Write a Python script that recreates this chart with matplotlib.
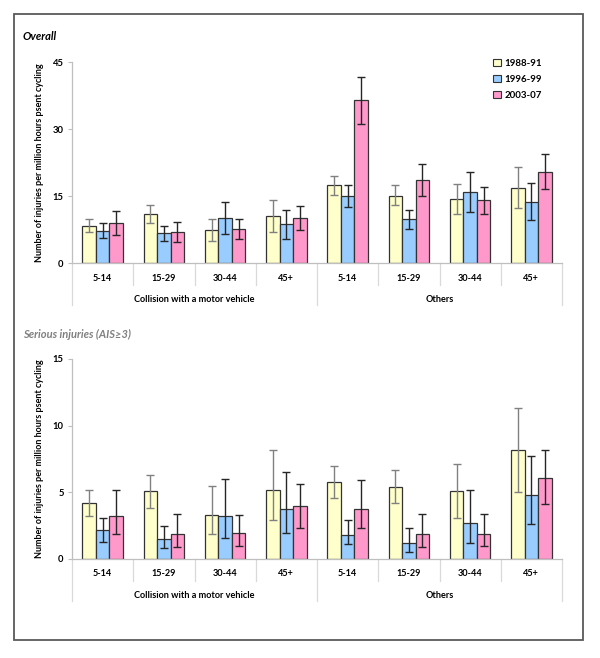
import numpy as np
import matplotlib
matplotlib.use("Agg")
import matplotlib.pyplot as plt
from matplotlib.patches import Rectangle, Patch

plt.rcParams["font.family"] = ["Lato", "DejaVu Sans"]

## DATA ##
AGE_GROUPS = ["5-14", "15-29", "30-44", "45+"]
MECHANISMS = ["Collision with a motor vehicle", "Others"]
PERIODS = ["1988-91", "1996-99", "2003-07"]

# overall: 8 categories (4 collision + 4 others) per period
overall_values = [
	[8.4, 11.1, 7.5, 10.5, 17.4, 15.1, 14.3, 16.9],
	[7.2, 6.7, 10.1, 8.7, 15.0, 9.8, 16.0, 13.8],
	[9.0, 6.9, 7.6, 10.2, 36.4, 18.6, 14.1, 20.4],
]
overall_low = [
	[6.9, 9.1, 4.9, 6.9, 15.3, 13.1, 11.0, 12.4],
	[5.6, 4.9, 6.5, 5.4, 12.5, 7.6, 11.4, 9.7],
	[6.3, 4.7, 5.4, 7.5, 31.2, 15.0, 11.0, 16.7],
]
overall_high = [
	[9.9, 13.0, 9.8, 14.1, 19.5, 17.4, 17.7, 21.5],
	[9.0, 8.4, 13.7, 12.0, 17.5, 12.0, 20.4, 17.9],
	[11.6, 9.2, 9.8, 12.9, 41.6, 22.2, 17.0, 24.4],
]

serious_values = [
	[4.2, 5.1, 3.3, 5.15, 5.75, 5.4, 5.1, 8.2],
	[2.2, 1.5, 3.2, 3.75, 1.8, 1.2, 2.7, 4.8],
	[3.25, 1.9, 1.95, 3.95, 3.75, 1.9, 1.9, 6.1],
]
serious_low = [
	[3.2, 3.85, 1.9, 2.9, 4.6, 4.2, 3.05, 5.0],
	[1.25, 0.8, 1.6, 1.95, 1.1, 0.55, 1.2, 2.6],
	[1.9, 0.9, 0.95, 2.3, 2.35, 0.9, 0.95, 4.1],
]
serious_high = [
	[5.2, 6.3, 5.45, 8.2, 6.95, 6.7, 7.1, 11.3],
	[3.1, 2.5, 6.0, 6.5, 2.9, 2.3, 5.2, 7.7],
	[5.2, 3.4, 3.3, 5.6, 5.95, 3.4, 3.35, 8.2],
]

## STYLE ##
BAR_COLORS = ["#FFFFCC", "#99CCFF", "#FF99CC"]
ERR_COLORS = ["#808080", "#262626", "#262626"]
EDGE = "#333333"
AXIS_GRAY = "#BFBFBF"
BAR_WIDTH = 0.22
FIG_W, FIG_H, DPI = 6.0, 6.58, 100

def px_x(px):
	return px / (FIG_W * DPI)

def px_y(px):
	return 1 - px / (FIG_H * DPI)

def draw_panel(ax, values, lows, highs, ymax, step, show_legend=False):
	n = len(AGE_GROUPS) * len(MECHANISMS)
	x = np.arange(n)
	for i, period in enumerate(PERIODS):
		vals = np.array(values[i])
		err = np.array([vals - np.array(lows[i]), np.array(highs[i]) - vals])
		ax.bar(
			x + (i - 1) * BAR_WIDTH, vals, BAR_WIDTH,
			color=BAR_COLORS[i], edgecolor=EDGE, linewidth=0.9,
			label=period, zorder=2
		)
		ax.errorbar(
			x + (i - 1) * BAR_WIDTH, vals, yerr=err, fmt="none",
			ecolor=ERR_COLORS[i], elinewidth=1.0, capsize=2.6, capthick=1.0,
			zorder=3
		)

	ax.set_xlim(-0.5, n - 0.5)
	ax.set_ylim(0, ymax)
	ax.set_yticks(np.arange(0, ymax + 0.1, step))
	ax.tick_params(axis="y", labelsize=6.8, length=3, width=0.8,
		color=AXIS_GRAY, pad=3)
	for lbl in ax.get_yticklabels():
		lbl.set_fontweight("bold")
	ax.set_xticks([])
	for side in ["top", "right"]:
		ax.spines[side].set_visible(False)
	ax.spines["left"].set_color(AXIS_GRAY)
	ax.spines["bottom"].set_color(AXIS_GRAY)
	ax.spines["left"].set_linewidth(0.9)
	ax.spines["bottom"].set_linewidth(0.9)
	ax.set_ylabel("Number of injuries per million hours psent cycling",
		fontsize=6.5, fontweight="bold", labelpad=6)

	# category axis with separators (in pixel offsets below the axis)
	h_px = ax.get_position().height * FIG_H * DPI
	trans = ax.get_xaxis_transform()
	short = 22 / h_px
	long = 42 / h_px
	for k in range(n + 1):
		b = k - 0.5
		ln = long if k % len(AGE_GROUPS) == 0 else short
		ax.plot([b, b], [0, -ln], transform=trans, color="#D9D9D9",
			linewidth=0.9, clip_on=False)
	labels = AGE_GROUPS * len(MECHANISMS)
	for k, lab in enumerate(labels):
		ax.text(k, -15 / h_px, lab, transform=trans, ha="center", va="center",
			fontsize=6.6, fontweight="bold")
	for m, mech in enumerate(MECHANISMS):
		cx = m * len(AGE_GROUPS) + (len(AGE_GROUPS) - 1) / 2
		ax.text(cx, -36 / h_px, mech, transform=trans, ha="center",
			va="center", fontsize=6.6, fontweight="bold")

	if show_legend:
		handles = [
			Patch(facecolor=BAR_COLORS[i], edgecolor=EDGE, linewidth=0.8,
				label=PERIODS[i])
			for i in range(len(PERIODS))
		]
		ax.legend(handles=handles, loc="upper left",
			bbox_to_anchor=(px_x(484), px_y(50)),
			bbox_transform=ax.figure.transFigure, frameon=False,
			handlelength=0.8, handleheight=0.8, handletextpad=0.4,
			labelspacing=0.7, prop={"size": 7, "weight": "bold"})

fig = plt.figure(figsize=(FIG_W, FIG_H), dpi=DPI)

ax_top = fig.add_axes([px_x(72), px_y(263.3), px_x(562) - px_x(72),
	px_y(62) - px_y(263.3)])
ax_bot = fig.add_axes([px_x(72), px_y(559), px_x(562) - px_x(72),
	px_y(359) - px_y(559)])

draw_panel(ax_top, overall_values, overall_low, overall_high, 45, 15,
	show_legend=True)
draw_panel(ax_bot, serious_values, serious_low, serious_high, 15, 5)

fig.text(px_x(23), px_y(36), "Overall", fontsize=8, fontweight="bold",
	style="italic", va="center", ha="left")
fig.text(px_x(23), px_y(334), "Serious injuries (AIS\u22653)", fontsize=8,
	fontweight="bold", style="italic", color="#808080", va="center",
	ha="left")

frame = Rectangle((px_x(14), px_y(640)), px_x(583) - px_x(14),
	px_y(14) - px_y(640), transform=fig.transFigure, fill=False,
	edgecolor="#595959", linewidth=1.3)
fig.patches.append(frame)

fig.savefig("out.png", dpi=DPI)
